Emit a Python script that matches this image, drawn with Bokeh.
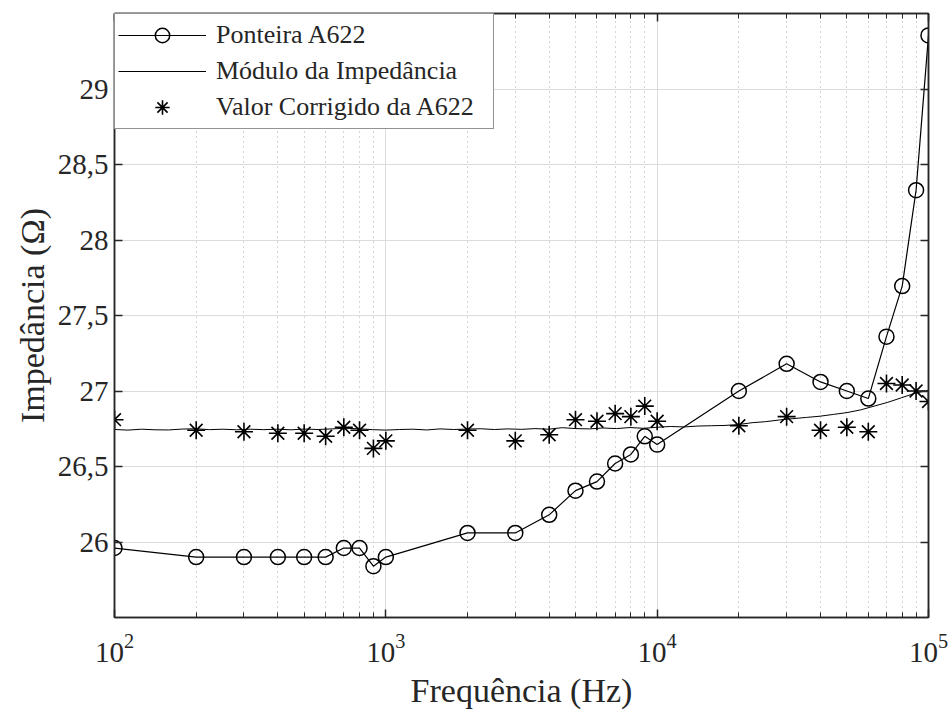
from bokeh.plotting import figure
from bokeh.models import (LogAxis, LinearAxis, FixedTicker, CustomJSTickFormatter,
                          Legend, LegendItem, ColumnDataSource)
from bokeh.embed import file_html
from bokeh.resources import INLINE

# ---------------- data ----------------
freq_pts = [100, 200, 300, 400, 500, 600, 700, 800, 900, 1000,
            2000, 3000, 4000, 5000, 6000, 7000, 8000, 9000, 10000,
            20000, 30000, 40000, 50000, 60000, 70000, 80000, 90000, 100000]

ponteira_a622 = [25.96, 25.90, 25.90, 25.90, 25.90, 25.90, 25.96, 25.96, 25.84, 25.90,
                 26.06, 26.06, 26.18, 26.34, 26.40, 26.52, 26.58, 26.70, 26.645,
                 27.00, 27.18, 27.06, 27.00, 26.95, 27.36, 27.695, 28.33, 29.355]

valor_corrigido = [26.81, 26.74, 26.73, 26.72, 26.72, 26.70, 26.76, 26.74, 26.62, 26.67,
                   26.74, 26.67, 26.71, 26.81, 26.80, 26.85, 26.83, 26.90, 26.80,
                   26.77, 26.83, 26.74, 26.76, 26.73, 27.05, 27.04, 27.00, 26.93]

freq_mod = [100, 112, 126, 141, 158, 178, 200, 224, 251, 282,
            316, 355, 398, 447, 501, 562, 631, 708, 794, 891,
            1000, 1122, 1259, 1413, 1585, 1778, 1995, 2239, 2512, 2818,
            3162, 3548, 3981, 4467, 5012, 5623, 6310, 7079, 7943, 8913,
            10000, 11220, 12589, 14125, 15849, 17783, 19953, 22387, 25119, 28184,
            31623, 35481, 39811, 44668, 50119, 56234, 63096, 70795, 79433, 89125,
            100000]

modulo_impedancia = [26.745, 26.741, 26.747, 26.743, 26.742, 26.748, 26.750, 26.744, 26.747, 26.743,
                     26.747, 26.744, 26.747, 26.743, 26.748, 26.745, 26.749, 26.753, 26.750, 26.744,
                     26.741, 26.745, 26.747, 26.742, 26.749, 26.745, 26.748, 26.750, 26.745, 26.749,
                     26.746, 26.751, 26.747, 26.757, 26.751, 26.749, 26.755, 26.751, 26.758, 26.753,
                     26.760, 26.765, 26.762, 26.768, 26.770, 26.772, 26.778, 26.790, 26.797, 26.808,
                     26.817, 26.825, 26.833, 26.845, 26.857, 26.875, 26.900, 26.925, 26.955, 26.985,
                     27.005]

x_major = [100, 1000, 10000, 100000]
x_minor = [200, 300, 400, 500, 600, 700, 800, 900,
           2000, 3000, 4000, 5000, 6000, 7000, 8000, 9000,
           20000, 30000, 40000, 50000, 60000, 70000, 80000, 90000]
y_ticks = [26, 26.5, 27, 27.5, 28, 28.5, 29]
y_grid = [25.5, 26, 26.5, 27, 27.5, 28, 28.5, 29, 29.5]

FONT = "Liberation Serif"
TXT = "#262626"

p = figure(x_axis_type="log", x_range=(100, 100000), y_range=(25.5, 29.5),
           frame_width=814, frame_height=604,
           min_border_left=114, min_border_right=21, min_border_top=13, min_border_bottom=96,
           output_backend="svg", toolbar_location=None,
           background_fill_color="white", border_fill_color="white")

xt = FixedTicker(ticks=x_major, minor_ticks=x_minor)
yt = FixedTicker(ticks=y_ticks, minor_ticks=[])

p.xaxis.ticker = xt
p.yaxis.ticker = yt
p.yaxis.formatter = CustomJSTickFormatter(code="return tick.toString().replace('.', ',')")

p.xgrid.ticker = xt
p.xgrid.grid_line_color = "#dcdcdc"
p.xgrid.grid_line_width = 1
p.xgrid.minor_grid_line_color = "#aaaaaa"
p.xgrid.minor_grid_line_dash = "1 4"
p.xgrid.minor_grid_line_width = 1
p.ygrid.ticker = FixedTicker(ticks=y_grid, minor_ticks=[])
p.ygrid.grid_line_color = "#dcdcdc"
p.ygrid.grid_line_width = 1

blank = CustomJSTickFormatter(code="return ''")
p.add_layout(LinearAxis(ticker=yt, formatter=blank, major_label_text_font_size="1px"), "right")
p.add_layout(LogAxis(ticker=xt, formatter=blank, major_label_text_font_size="1px"), "above")

for ax in p.axis:
    ax.axis_line_color = TXT
    ax.axis_line_width = 1.5
    ax.major_tick_line_color = TXT
    ax.minor_tick_line_color = TXT
    ax.major_tick_line_width = 1.5
    ax.minor_tick_line_width = 1
    ax.major_tick_in = 8
    ax.major_tick_out = 0
    ax.minor_tick_in = 5
    ax.minor_tick_out = 0
    ax.major_label_text_font = FONT
    ax.major_label_text_color = TXT
    ax.axis_label_text_font = FONT
    ax.axis_label_text_font_style = "normal"
    ax.axis_label_text_font_size = "34px"
    ax.axis_label_text_color = TXT

bottom = p.below[0]
left = p.left[0]
bottom.major_label_text_font_size = "29px"
left.major_label_text_font_size = "29px"
bottom.axis_label = "Frequência (Hz)"
left.axis_label = "Impedância (Ω)"
bottom.major_label_standoff = 16
bottom.axis_label_standoff = 7
left.major_label_standoff = 6
left.axis_label_standoff = 4
p.outline_line_color = TXT
p.outline_line_width = 1.5

src_pts = ColumnDataSource(dict(f=freq_pts, a=ponteira_a622, c=valor_corrigido))
src_mod = ColumnDataSource(dict(f=freq_mod, m=modulo_impedancia))

l_a = p.line("f", "a", source=src_pts, line_color="black", line_width=1.2)
c_a = p.scatter("f", "a", source=src_pts, marker="circle", size=15, fill_color=None,
                line_color="black", line_width=1.5)
l_m = p.line("f", "m", source=src_mod, line_color="black", line_width=1)
s_c = p.scatter("f", "c", source=src_pts, marker="asterisk", size=18,
                line_color="black", line_width=1.6)

legend = Legend(items=[
    LegendItem(label="Ponteira A622", renderers=[l_a, c_a]),
    LegendItem(label="Módulo da Impedância", renderers=[l_m]),
    LegendItem(label="Valor Corrigido da A622", renderers=[s_c]),
], location="top_left")
legend.margin = 0
legend.padding = 3
legend.spacing = -4
legend.glyph_width = 88
legend.glyph_height = 36
legend.label_height = 36
legend.label_width = 274
legend.label_standoff = 10
legend.label_text_font = FONT
legend.label_text_font_size = "26px"
legend.label_text_color = TXT
legend.border_line_color = TXT
legend.border_line_width = 1
legend.background_fill_color = "white"
legend.background_fill_alpha = 1
p.add_layout(legend)

open("out.html", "w").write(file_html(p, INLINE))
